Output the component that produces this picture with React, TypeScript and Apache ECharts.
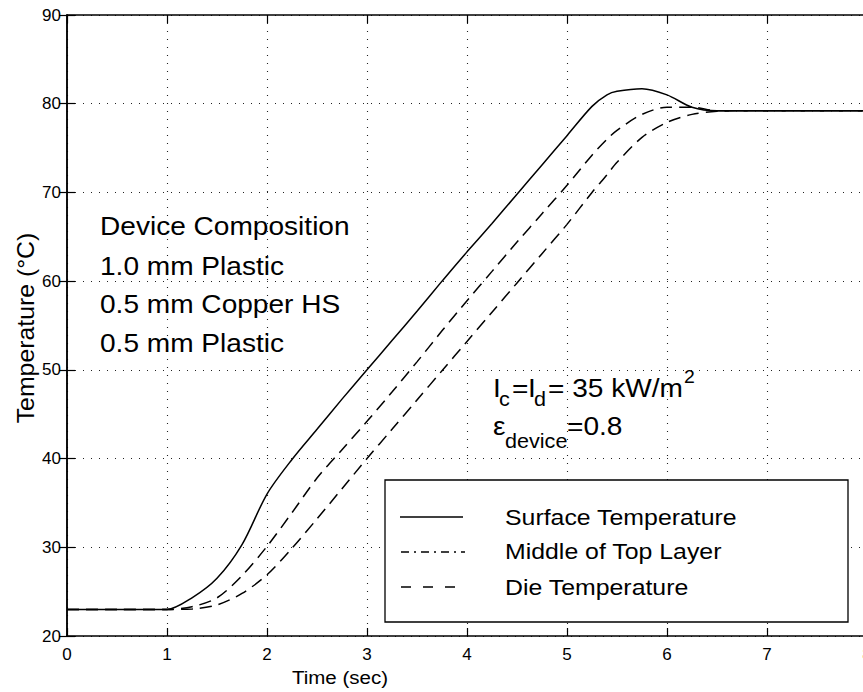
import React, { useEffect, useRef } from "react";
import * as echarts from "echarts";

// Time (sec)
const time = [0, 0.5, 1, 1.25, 1.5, 1.75, 2, 2.25, 2.5, 2.75, 3, 3.25, 3.5, 3.75, 4, 4.25, 4.5, 4.75, 5, 5.25, 5.4, 5.5, 5.75, 6, 6.25, 6.5, 6.75, 7, 8];
// Temperature (°C)
const surfaceTemp = [23, 23, 23, 24.3, 26.5, 30.3, 36.0, 39.9, 43.3, 46.7, 50.0, 53.3, 56.6, 60.0, 63.3, 66.5, 69.8, 73.1, 76.4, 79.7, 81.0, 81.4, 81.7, 81.0, 79.6, 79.2, 79.2, 79.2, 79.2];
const middleTopLayer = [23, 23, 23, 23.3, 24.3, 26.8, 30.1, 33.9, 37.8, 41.0, 44.2, 47.5, 50.9, 54.4, 57.8, 61.1, 64.4, 67.6, 70.8, 74.2, 76.0, 77.0, 78.8, 79.6, 79.6, 79.2, 79.2, 79.2, 79.2];
const dieTemp = [23, 23, 23, 23.05, 23.5, 24.8, 26.9, 29.9, 33.2, 36.6, 40.0, 43.3, 46.6, 49.9, 53.2, 56.5, 59.8, 63.1, 66.4, 70.0, 72.0, 73.4, 76.2, 77.9, 78.8, 79.15, 79.2, 79.2, 79.2];

const seriesNames = ["Surface Temperature", "Middle of Top Layer", "Die Temperature"];
const compositionLines = ["Device Composition", "1.0 mm Plastic", "0.5 mm Copper HS", "0.5 mm Plastic"];

const FONT = "'Liberation Sans', Arial, Helvetica, sans-serif";

export default function App() {
  const ref = useRef<HTMLDivElement>(null);

  useEffect(() => {
    const chart = echarts.init(ref.current!, undefined, { renderer: "svg" });
    const pairs = (ys: number[]) => time.map((t, i) => [t, ys[i]]);
    const axisLine = { show: true, lineStyle: { color: "#000", width: 1.5 } };
    const axisTick = { show: true, inside: true, length: 8, lineStyle: { color: "#000", width: 1.2 } };
    const dotted = { show: true, lineStyle: { color: "#222", width: 1.1, type: [1, 7] } };
    const SX = 1.08;

    const txt = (text: string, x: number, y: number, size: number, extra: any = {}) => ({
      type: "text",
      x,
      y,
      scaleX: extra.scaleX ?? SX,
      rotation: extra.rotation ?? 0,
      z: 100,
      style: {
        text,
        fontSize: size,
        fontFamily: FONT,
        fill: "#000",
        align: extra.align ?? "left",
        verticalAlign: "middle",
      },
    });
    const seg = (x1: number, x2: number, y: number, dash: any) => ({
      type: "line",
      z: 100,
      shape: { x1, y1: y, x2, y2: y },
      style: { stroke: "#000", lineWidth: 1.3, lineDash: dash },
    });

    const graphic: any[] = [
      ...compositionLines.map((s, i) => txt(s, 100, [226, 266, 304, 343][i], 26)),
      txt("I", 493, 388, 26),
      txt("c", 499, 399, 20),
      txt("=", 512, 388, 26),
      txt("I", 528, 388, 26),
      txt("d", 534, 399, 20),
      txt("= 35 kW/m", 548, 388, 26),
      txt("2", 684, 377, 18),
      txt("ε", 493, 426, 26),
      txt("device", 505, 441, 20),
      txt("=0.8", 567, 426, 26),
      {
        type: "rect",
        z: 99,
        shape: { x: 385, y: 480, width: 463, height: 142 },
        style: { fill: "#fff", stroke: "#000", lineWidth: 1.3 },
      },
      seg(400, 463, 517, null),
      seg(401, 465, 552, [8, 5, 2, 5]),
      seg(401, 456, 587, [10, 12]),
      txt(seriesNames[0], 505, 518, 22, { scaleX: 1.13 }),
      txt(seriesNames[1], 505, 552, 22, { scaleX: 1.13 }),
      txt(seriesNames[2], 505, 588, 22, { scaleX: 1.13 }),
      txt("Time (sec)", 340, 677, 19, { align: "center" }),
      txt("Temperature (°C)", 26, 328, 23, { align: "center", rotation: Math.PI / 2 }),
    ];

    chart.setOption({
      animation: false,
      backgroundColor: "#fff",
      grid: { left: 67, top: 15, width: 800, height: 621, containLabel: false, outerBoundsMode: "none" },
      xAxis: [
        {
          type: "value",
          min: 0,
          max: 8,
          interval: 1,
          position: "bottom",
          axisLine,
          axisTick,
          axisLabel: { color: "#000", fontSize: 17, fontFamily: FONT, margin: 10 },
          splitLine: dotted,
        },
        {
          type: "value",
          min: 0,
          max: 8,
          interval: 1,
          position: "top",
          axisLine,
          axisTick,
          axisLabel: { show: false },
          splitLine: { show: false },
        },
      ],
      yAxis: [
        {
          type: "value",
          min: 20,
          max: 90,
          interval: 10,
          position: "left",
          axisLine,
          axisTick,
          axisLabel: { color: "#000", fontSize: 17, fontFamily: FONT, margin: 6 },
          splitLine: dotted,
        },
        {
          type: "value",
          min: 20,
          max: 90,
          interval: 10,
          position: "right",
          axisLine,
          axisTick,
          axisLabel: { show: false },
          splitLine: { show: false },
        },
      ],
      series: [
        {
          name: seriesNames[0],
          type: "line",
          data: pairs(surfaceTemp),
          xAxisIndex: 0,
          yAxisIndex: 0,
          symbol: "none",
          smooth: 0.3,
          lineStyle: { color: "#000", width: 1.5, type: "solid" },
        },
        {
          name: seriesNames[1],
          type: "line",
          data: pairs(middleTopLayer),
          xAxisIndex: 0,
          yAxisIndex: 0,
          symbol: "none",
          smooth: 0.3,
          lineStyle: { color: "#000", width: 1.5, type: [12, 7] },
        },
        {
          name: seriesNames[2],
          type: "line",
          data: pairs(dieTemp),
          xAxisIndex: 0,
          yAxisIndex: 0,
          symbol: "none",
          smooth: 0.3,
          lineStyle: { color: "#000", width: 1.5, type: [12, 7] },
        },
      ],
      graphic,
    });

    return () => chart.dispose();
  }, []);

  return (
    <div
      ref={ref}
      style={{ position: "fixed", left: 0, top: 0, width: 863, height: 692, background: "#fff" }}
    />
  );
}
